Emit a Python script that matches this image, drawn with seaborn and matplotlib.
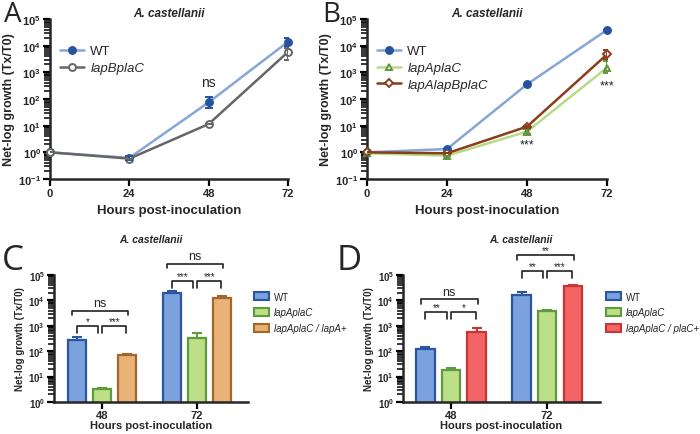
"""
Crecimiento en A. castellanii: curvas (A, B) y barras (C, D)
"""
import numpy as np
import pandas as pd
import matplotlib
matplotlib.use('Agg')
import matplotlib.pyplot as plt
from matplotlib.patches import Patch
from matplotlib.ticker import FuncFormatter, NullFormatter
import seaborn as sns

# ---- datos ----
hours = [0, 24, 48, 72]

# panel A
a_wt = [1.0, 0.62, 75, 1.4e4]
a_wt_lo = [1.0, 0.52, 45, 1.0e4]
a_wt_hi = [1.0, 0.74, 115, 2.0e4]
a_bc = [1.0, 0.58, 11.5, 5800]
a_bc_lo = [1.0, 0.58, 11.5, 3000]
a_bc_hi = [1.0, 0.58, 11.5, 7900]

# panel B
b_wt = [1.0, 1.33, 355, 3.9e4]
b_ac = [0.92, 0.75, 6.0, 1500]
b_ac_lo = [0.92, 0.75, 5.0, 910]
b_ac_hi = [0.92, 0.75, 7.2, 2600]
b_abc = [1.0, 0.92, 9.2, 4700]
b_abc_lo = [1.0, 0.92, 8.4, 3300]
b_abc_hi = [1.0, 0.92, 10.0, 6800]

# paneles C y D
bar_hours = ['48', '72']
c_strains = ['WT', 'lapAplaC', 'lapAplaC / lapA+']
c_wt = [270, 1.94e4]
c_wt_hi = [370, 2.4e4]
c_ac = [3.2, 345]
c_ac_hi = [3.7, 500]
c_a = [70, 1.3e4]
c_a_hi = [78, 1.5e4]

d_strains = ['WT', 'lapAplaC', 'lapAplaC / plaC+']
d_wt = [120, 1.67e4]
d_wt_hi = [148, 2.1e4]
d_ac = [17.8, 3700]
d_ac_hi = [21, 4300]
d_p = [545, 3.6e4]
d_p_hi = [790, 4.0e4]

# brackets: (grupo, barra i, barra j, altura, texto)
c_sig = [(0, 0, 2, 4000, 'ns'), (0, 0, 1, 950, '*'), (0, 1, 2, 950, '***'),
         (1, 0, 2, 2.8e5, 'ns'), (1, 0, 1, 5.6e4, '***'), (1, 1, 2, 5.6e4, '***')]
d_sig = [(0, 0, 2, 1.1e4, 'ns'), (0, 0, 1, 3400, '**'), (0, 1, 2, 3400, '*'),
         (1, 0, 2, 6.0e5, '**'), (1, 0, 1, 1.4e5, '**'), (1, 1, 2, 1.4e5, '***')]

# colores
blue_line = '#86a6d6'
blue_dark = '#25549e'
grey = '#666666'
green_line = '#b9da86'
green_dark = '#5d9a3c'
brown = '#8a3d1c'
fills = ['#7ba2dc', '#bcdf88', '#e9b277']
edges = ['#2a55a0', '#5e9a3e', '#a2672c']
fills_d = ['#7ba2dc', '#bcdf88', '#f26464']
edges_d = ['#2a55a0', '#5e9a3e', '#c93434']

sns.set_style('ticks')
plt.rcParams['font.family'] = ['Liberation Sans', 'DejaVu Sans']
plt.rcParams['mathtext.fontset'] = 'custom'
plt.rcParams['mathtext.bf'] = 'Liberation Sans:bold'
plt.rcParams['mathtext.rm'] = 'Liberation Sans'


def pow_fmt(v, pos):
    e = int(round(np.log10(v)))
    return r'$\mathbf{10^{%d}}$' % e


def style_log_axis(ax, fs, emin, emax):
    ax.set_yscale('log')
    majors = [10.0 ** e for e in range(emin, emax + 1)]
    minors = [m * 10.0 ** e for e in range(emin, emax) for m in range(2, 10)]
    ax.set_ylim(majors[0], majors[-1])
    ax.set_yticks(majors)
    ax.set_yticks(minors, minor=True)
    ax.yaxis.set_major_formatter(FuncFormatter(pow_fmt))
    ax.yaxis.set_minor_formatter(NullFormatter())
    sns.despine(ax=ax)
    for s in ['left', 'bottom']:
        ax.spines[s].set_linewidth(1.8)
    ax.tick_params(which='major', direction='out', length=5, width=1.6,
                   color='black', labelsize=fs, pad=1.5)
    ax.tick_params(axis='y', which='minor', direction='out', length=4.2, width=1.1,
                   color='black', left=True)
    for lab in ax.get_xticklabels():
        lab.set_fontweight('bold')


def line_panel(ax, series, ylab_fs=9):
    for vals, lo, hi, lc, mk, mfc, mec, lab in series:
        ms = 4.5 if mk == 'D' else 5
        sns.lineplot(x=hours, y=vals, ax=ax, color=lc, marker=mk, markersize=ms,
                     markerfacecolor=mfc, markeredgecolor=mec, markeredgewidth=1.4,
                     linewidth=1.8, label=lab, clip_on=False, zorder=3)
        v = np.array(vals)
        ax.errorbar(hours, v, yerr=[v - np.array(lo), np.array(hi) - v], fmt='none',
                    ecolor=mec, elinewidth=1.4, capsize=3, capthick=1.4, zorder=4)
    ax.set_xlim(0, 72)
    ax.set_xticks(hours)
    ax.set_xticklabels([str(h) for h in hours], fontweight='bold')
    style_log_axis(ax, 8, -1, 5)
    ax.set_xlabel('Hours post-inoculation', fontsize=9.5, fontweight='bold', labelpad=4)
    ax.set_ylabel('Net-log growth (Tx/T0)', fontsize=9, fontweight='bold', labelpad=2)
    ax.set_title('A. castellanii', fontsize=8.5, fontweight='bold', style='italic', pad=1)
    leg = ax.legend(loc='upper left', bbox_to_anchor=(0.02, 0.87), frameon=False,
                    fontsize=9.5, handlelength=1.8, handletextpad=0.5,
                    labelspacing=0.35, borderaxespad=0)
    for t in leg.get_texts()[1:]:
        t.set_style('italic')


def bar_panel(ax, strains, vals, his, fc, ec, sig, bar_pos):
    df = pd.DataFrame({
        'hours': bar_hours * 3,
        'strain': [s for s in strains for _ in bar_hours],
        'growth': [v for series in vals for v in series],
    })
    sns.barplot(data=df, x='hours', y='growth', hue='strain', hue_order=strains,
                palette=fc, ax=ax, errorbar=None, gap=0.28, width=0.8,
                linewidth=1.6, saturation=1, legend=False)
    # bordes y barras de error (solo hacia arriba)
    centers = {}
    bar_conts = list(ax.containers)
    for k, cont in enumerate(bar_conts):
        for g, (bar, h) in enumerate(zip(cont, his[k])):
            bar.set_edgecolor(ec[k])
            x = bar.get_x() + bar.get_width() / 2
            centers[(g, k)] = x
            top = bar.get_height()
            ax.errorbar([x], [top], yerr=[[0], [h - top]], fmt='none', ecolor=ec[k],
                        elinewidth=1.5, capsize=3.5, capthick=1.5, zorder=5)
    ax.set_xlim(*bar_pos)
    style_log_axis(ax, 7, 0, 5)
    ax.tick_params(axis='x', labelsize=8, pad=0.5)
    ax.set_xlabel('Hours post-inoculation', fontsize=8, fontweight='bold', labelpad=0)
    ax.set_ylabel('Net-log growth (Tx/T0)', fontsize=7, fontweight='bold', labelpad=2)
    # significancia
    for g, i, j, y, txt in sig:
        outer = (j - i) == 2
        x1 = centers[(g, i)] - (0.05 if outer else 0.0)
        x2 = centers[(g, j)] + (0.01 if outer else -0.04)
        if not outer and i == 1:
            x1 = centers[(g, i)] + 0.0
            x2 = centers[(g, j)] - 0.01
        leg = 1.55 if outer else 1.9
        ax.plot([x1, x1, x2, x2], [y / leg, y, y, y / leg], color='#222222',
                linewidth=1.2, clip_on=False)
        ax.annotate(txt, ((x1 + x2) / 2, y), xytext=(0, 1 if txt == 'ns' else 0),
                    textcoords='offset points', ha='center', va='bottom',
                    fontsize=9 if txt == 'ns' else 7, annotation_clip=False)
    handles = [Patch(facecolor=fc[k], edgecolor=ec[k], linewidth=1.5) for k in range(3)]
    leg = ax.legend(handles, strains, loc='upper left', bbox_to_anchor=(1.01, 0.9),
                    frameon=False, fontsize=7, handlelength=1.6, handleheight=0.9,
                    handletextpad=0.45, labelspacing=0.6, borderaxespad=0)
    for t in leg.get_texts()[1:]:
        t.set_style('italic')


fig = plt.figure(figsize=(7, 4.35), dpi=100)
H = 435.0
W = 700.0
axA = fig.add_axes([50 / W, 1 - 180 / H, 238 / W, 160 / H])
axB = fig.add_axes([367 / W, 1 - 180 / H, 240 / W, 160 / H])
axC = fig.add_axes([54 / W, 1 - 403 / H, 194 / W, 127 / H])
axD = fig.add_axes([403 / W, 1 - 403 / H, 197 / W, 127 / H])

line_panel(axA, [
    (a_wt, a_wt_lo, a_wt_hi, blue_line, 'o', blue_dark, blue_dark, 'WT'),
    (a_bc, a_bc_lo, a_bc_hi, grey, 'o', 'white', grey, 'lapBplaC'),
])
axA.text(48, 420, 'ns', ha='center', va='center', fontsize=10)

line_panel(axB, [
    (b_wt, b_wt, b_wt, blue_line, 'o', blue_dark, blue_dark, 'WT'),
    (b_ac, b_ac_lo, b_ac_hi, green_line, '^', 'white', green_dark, 'lapAplaC'),
    (b_abc, b_abc_lo, b_abc_hi, brown, 'D', 'white', brown, 'lapAlapBplaC'),
])
axB.text(48, 1.9, '***', ha='center', va='center', fontsize=9)
axB.text(72, 330, '***', ha='center', va='center', fontsize=9)

bar_panel(axC, c_strains, [c_wt, c_ac, c_a], [c_wt_hi, c_ac_hi, c_a_hi],
          fills, edges, c_sig, (-0.505, 1.537))
bar_panel(axD, d_strains, [d_wt, d_ac, d_p], [d_wt_hi, d_ac_hi, d_p_hi],
          fills_d, edges_d, d_sig, (-0.5, 1.55))

axC.set_title('A. castellanii', fontsize=7.5, fontweight='bold', style='italic', pad=24)
axD.set_title('A. castellanii', fontsize=7.5, fontweight='bold', style='italic', pad=24,
              x=0.6)

# letras de panel
for lx, ly, letter, fs in [(4, 22, 'A', 20), (322, 22, 'B', 20),
                           (2, 270, 'C', 25), (337, 270, 'D', 25)]:
    fig.text(lx / W, 1 - ly / H, letter, fontsize=fs, family='Open Sans',
             ha='left', va='baseline')

fig.savefig('out.png', dpi=100)
